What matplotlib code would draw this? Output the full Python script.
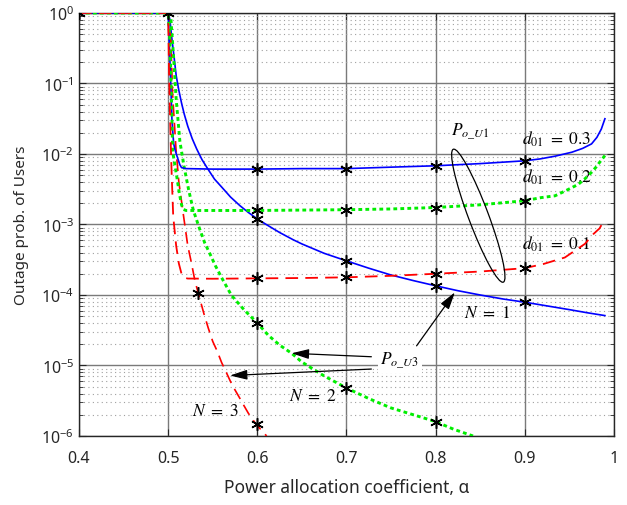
import numpy as np
import matplotlib
matplotlib.use('Agg')
import matplotlib.pyplot as plt
from matplotlib.patches import Ellipse
from matplotlib.transforms import IdentityTransform
from matplotlib.ticker import LogLocator, FixedLocator, NullFormatter

plt.rcParams['font.family'] = ['Noto Sans', 'DejaVu Sans']
plt.rcParams['mathtext.fontset'] = 'stix'

# ---- Data ----
# P_o_U1 curves (d01 = 0.3, 0.2, 0.1)
alpha_u1_03 = [0.4, 0.5, 0.5012, 0.5029, 0.5043, 0.5062, 0.5077, 0.5095, 0.511, 0.513,
               0.515, 0.52, 0.55, 0.6, 0.65, 0.7, 0.75, 0.8, 0.85, 0.9, 0.917, 0.934,
               0.953, 0.965, 0.975, 0.981, 0.986, 0.99]
pout_u1_03 = [1, 1, 0.4, 0.1, 0.03, 0.014, 0.0115, 0.0097, 0.0085, 0.0071,
              0.0064, 0.0062, 0.0061, 0.0061, 0.0062, 0.0062, 0.0065, 0.0068, 0.0073,
              0.008, 0.0085, 0.0093, 0.0106, 0.012, 0.0139, 0.0172, 0.0226, 0.0316]

alpha_u1_02 = [0.4, 0.5, 0.502, 0.504, 0.505, 0.5075, 0.51, 0.5125, 0.515, 0.517, 0.52,
               0.55, 0.6, 0.65, 0.7, 0.75, 0.8, 0.85, 0.9, 0.918, 0.934, 0.948, 0.96,
               0.968, 0.975, 0.98, 0.984, 0.99]
pout_u1_02 = [1, 1, 0.4, 0.045, 0.011, 0.007, 0.0045, 0.0028, 0.0019, 0.00164, 0.00158,
              0.00158, 0.00158, 0.0016, 0.00162, 0.00166, 0.00174, 0.0019, 0.00217,
              0.0024, 0.00255, 0.0031, 0.0037, 0.0045, 0.0055, 0.0065, 0.0076, 0.0095]

alpha_u1_01 = [0.4, 0.5, 0.5005, 0.501, 0.502, 0.503, 0.504, 0.5057, 0.509, 0.512, 0.515,
               0.518, 0.522, 0.55, 0.6, 0.65, 0.7, 0.75, 0.8, 0.85, 0.9, 0.921, 0.945,
               0.9675, 0.977, 0.984, 0.99]
pout_u1_01 = [1, 1, 0.4, 0.15, 0.04, 0.013, 0.005, 0.0013, 0.0005, 0.00028, 0.0002,
              0.000176, 0.000171, 0.00017, 0.000172, 0.000174, 0.000178, 0.000187,
              0.0002, 0.000215, 0.00024, 0.000275, 0.00034, 0.00053, 0.00073, 0.00088,
              0.0012]

# P_o_U3 curves (N = 1, 2, 3)
alpha_n1 = [0.5, 0.502, 0.504, 0.506, 0.509, 0.512, 0.515, 0.518, 0.522, 0.527, 0.532,
            0.538, 0.545, 0.552, 0.56, 0.57, 0.5805, 0.59, 0.6, 0.61, 0.625, 0.64,
            0.65, 0.675, 0.7, 0.725, 0.75, 0.775, 0.8, 0.825, 0.85, 0.875, 0.9, 0.925,
            0.95, 0.97, 0.99]
pout_n1 = [1, 0.8, 0.45, 0.28, 0.13, 0.08, 0.053, 0.037, 0.0248, 0.0165, 0.0118,
           0.0083, 0.006, 0.0044, 0.0034, 0.00245, 0.00185, 0.00148, 0.0012, 0.001,
           0.00077, 0.00061, 0.00053, 0.00039, 0.000305, 0.00024, 0.000192, 0.00016,
           0.000135, 0.000115, 0.0001, 0.000088, 0.000079, 0.00007, 0.000062,
           0.000056, 0.000051]

alpha_n2 = [0.5, 0.503, 0.506, 0.509, 0.5132, 0.518, 0.523, 0.5282, 0.535, 0.541, 0.547,
            0.553, 0.56, 0.5712, 0.585, 0.6, 0.6125, 0.625, 0.6385, 0.65, 0.675, 0.7,
            0.725, 0.75, 0.775, 0.8, 0.82, 0.842]
pout_n2 = [1, 0.85, 0.25, 0.06, 0.015, 0.0065, 0.0031, 0.0016, 0.00089, 0.00055,
           0.00038, 0.00026, 0.000176, 0.000098, 0.000062, 0.00004, 0.0000267,
           0.0000195, 0.0000149, 0.0000112, 0.0000071, 0.0000048, 0.0000034,
           0.0000025, 0.000002, 0.0000016, 0.00000125, 0.000001]

alpha_n3 = [0.5, 0.503, 0.505, 0.5088, 0.512, 0.517, 0.522, 0.526, 0.53, 0.5338, 0.54,
            0.545, 0.55, 0.555, 0.56, 0.565, 0.57, 0.575, 0.58, 0.585, 0.59, 0.595,
            0.6, 0.6105]
pout_n3 = [1, 0.4, 0.07, 0.0118, 0.004, 0.0014, 0.0005, 0.00029, 0.00016, 0.000106,
           0.000055, 0.000034, 0.000022, 0.000016, 0.000011, 0.0000081, 0.0000059,
           0.0000045, 0.0000035, 0.0000027, 0.0000021, 0.0000017, 0.0000014,
           0.000001]

# marker points
mk_alpha = [0.6, 0.7, 0.8, 0.9]
mk_u1_03 = [0.0061, 0.0062, 0.0068, 0.008]
mk_u1_02 = [0.00158, 0.00162, 0.00174, 0.00217]
mk_u1_01 = [0.000172, 0.000178, 0.0002, 0.00024]
mk_n1 = [0.0012, 0.000307, 0.000135, 0.000079]
mk_n2_alpha = [0.6, 0.7, 0.8]
mk_n2 = [0.00004, 0.0000048, 0.0000016]
mk_n3_alpha = [0.533, 0.6]
mk_n3 = [0.000106, 0.0000015]
mk_top_alpha = [0.4, 0.5]
mk_top = [1, 1]

# ---- Plot ----
fig = plt.figure(figsize=(6.27, 5.06), dpi=100)
ax = fig.add_axes([0.126, 0.1364, 0.853, 0.836])
ax.set_yscale('log')

green_ls = (0, (1.3, 1.1))
red_ls = (0, (7, 4))
ax.plot(alpha_n1, pout_n1, '-', color='#0000ff', lw=1.2, zorder=3)
ax.plot(alpha_n2, pout_n2, color='#00ee00', lw=2.1, ls=green_ls, zorder=3)
ax.plot(alpha_n3, pout_n3, color='#ff0000', lw=1.2, ls=red_ls, zorder=3)
ax.plot(alpha_u1_03, pout_u1_03, '-', color='#0000ff', lw=1.2, zorder=3)
ax.plot(alpha_u1_02, pout_u1_02, color='#00ee00', lw=2.1, ls=green_ls, zorder=3)
ax.plot(alpha_u1_01, pout_u1_01, color='#ff0000', lw=1.3, ls=red_ls, zorder=3)

star = (6, 2, 0)
mk = dict(ls='none', marker=star, color='k', ms=9, mew=1.1, zorder=4)
ax.plot(mk_alpha, mk_u1_03, **mk)
ax.plot(mk_alpha, mk_u1_02, **mk)
ax.plot(mk_alpha, mk_u1_01, **mk)
ax.plot(mk_alpha, mk_n1, **mk)
ax.plot(mk_n2_alpha, mk_n2, **mk)
ax.plot(mk_n3_alpha, mk_n3, **mk)
ax.plot(mk_top_alpha, mk_top, **mk)

ax.set_xlim(0.4, 1.0)
ax.set_ylim(1e-6, 1)
ax.xaxis.set_major_locator(FixedLocator([0.4, 0.5, 0.6, 0.7, 0.8, 0.9, 1.0]))
ax.set_xticklabels(['0.4', '0.5', '0.6', '0.7', '0.8', '0.9', '1'])
ax.yaxis.set_major_locator(LogLocator(base=10, numticks=10))
ax.yaxis.set_minor_locator(LogLocator(base=10, subs=np.arange(2, 10), numticks=20))
ax.yaxis.set_minor_formatter(NullFormatter())

ax.grid(True, which='major', color='#7a7a7a', lw=1.0, ls='-')
ax.grid(True, which='minor', axis='y', color='#a0a0a0', lw=0.8, ls=(0, (1, 3)))
ax.set_axisbelow(True)

ax.tick_params(which='both', direction='in', top=True, right=True,
               labelsize=11.5, colors='#262626')
ax.tick_params(which='major', length=5)
ax.tick_params(which='minor', length=3)
ax.tick_params(axis='x', pad=10)
for s in ax.spines.values():
    s.set_color('#262626')
    s.set_linewidth(1.0)

ax.set_xlabel('Power allocation coefficient, α', fontsize=12.5, color='#262626', labelpad=9)
ax.set_ylabel('Outage prob. of Users', fontsize=11, color='#262626', labelpad=9)

# ---- Annotations ----
tk = dict(fontsize=12.5, ha='center', va='center', zorder=2.5)
ax.text(0.839, 0.0216, r'$P_{o\_U1}$', bbox=dict(fc='white', ec='none', pad=1), **tk)
ax.text(0.936, 0.0169, r'$d_{01}\ =\ 0.3$', **tk)
ax.text(0.9366, 0.0048, r'$d_{01}\ =\ 0.2$', **tk)
ax.text(0.936, 0.000547, r'$d_{01}\ =\ 0.1$', **tk)
ax.text(0.858, 0.000057, r'$N\ =\ 1$', **tk)
ax.text(0.6628, 0.00000384, r'$N\ =\ 2$', **tk)
ax.text(0.5534, 0.00000236, r'$N\ =\ 3$', **tk)
ax.text(0.76, 0.000012, r'$P_{o\_U3}$', bbox=dict(fc='white', ec='none', pad=2), **tk)

ap = dict(arrowstyle='-|>,head_length=0.7,head_width=0.2', color='k', lw=0.9,
          shrinkA=0, shrinkB=0, mutation_scale=15)
ax.annotate('', xy=(0.6385, 1.49e-5), xytext=(0.728, 1.33e-5), arrowprops=ap, zorder=5)
ax.annotate('', xy=(0.5693, 7.2e-6), xytext=(0.728, 8.9e-6), arrowprops=ap, zorder=5)
ax.annotate('', xy=(0.8217, 1.09e-4), xytext=(0.7787, 1.9e-5), arrowprops=ap, zorder=5)

# ellipse around the U1 curves (pixel coordinates, y up)
ell = Ellipse((478.3, 506 - 216.7), width=20, height=142, angle=20.6,
              transform=IdentityTransform(), fill=False, ec='k', lw=0.9, zorder=5)
fig.patches.append(ell)

plt.savefig('out.png', dpi=100)
